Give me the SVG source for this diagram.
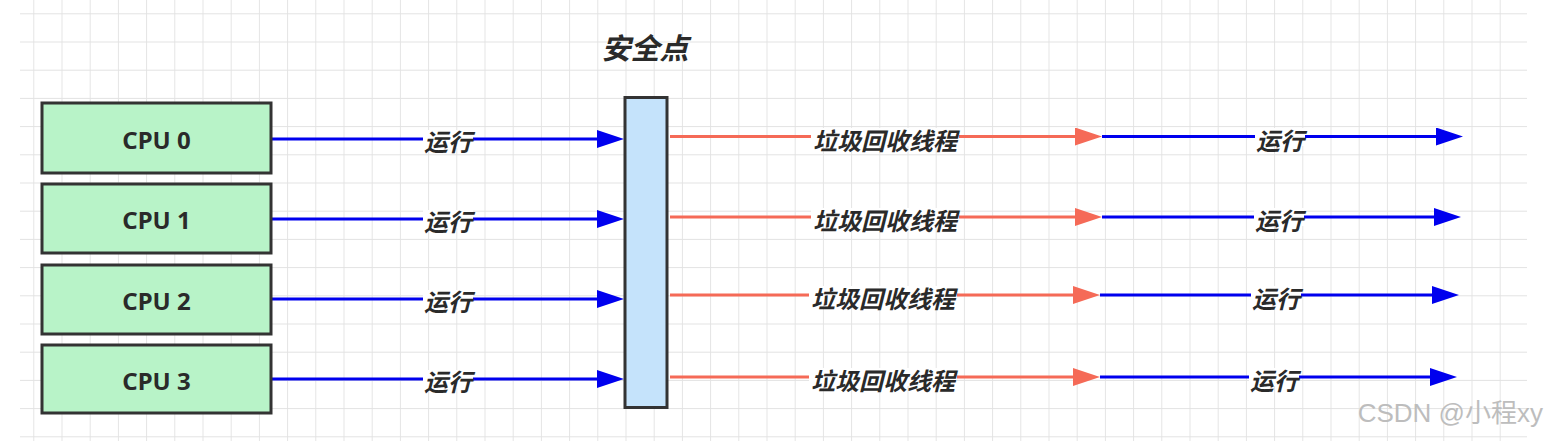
<svg xmlns="http://www.w3.org/2000/svg" width="1548" height="441" viewBox="0 0 1548 441">
<defs>
<pattern id="grid" patternUnits="userSpaceOnUse" x="33.3" y="13.3" width="28.2" height="28.2">
<path d="M0 0H28.2M0 0V28.2" fill="none" stroke="#e2e2e2" stroke-width="1.8"/>
</pattern>
<marker id="ab" markerUnits="userSpaceOnUse" markerWidth="28" markerHeight="20" refX="19" refY="9" orient="auto"><path d="M0 0L27 9L0 18Z" fill="#0000ee"/></marker>
<marker id="ar" markerUnits="userSpaceOnUse" markerWidth="28" markerHeight="20" refX="19" refY="9" orient="auto"><path d="M0 0L27 9L0 18Z" fill="#f56a57"/></marker>
</defs>
<style>
.cpu rect{fill:#b8f3c8;stroke:#333;stroke-width:3}
.cpu text{font-family:"Noto Sans","Liberation Sans",sans-serif;font-weight:bold;font-size:24px;fill:#2a2a2a;text-anchor:middle;dominant-baseline:central}
.blue{stroke:#0000ee;stroke-width:3;fill:none}
.red{stroke:#f56a57;stroke-width:3;fill:none}
.lbl{font-family:"Noto Sans CJK SC","Liberation Sans",sans-serif;font-weight:bold;font-style:italic;font-size:24px;fill:#2a2a2a;text-anchor:middle;dominant-baseline:central}
.bg{fill:#ffffff}
</style>
<rect width="1548" height="441" fill="#ffffff"/>
<rect x="20" y="0" width="1507" height="441" fill="url(#grid)"/>

<g id="connectors">
<path class="blue" d="M272 139H616" marker-end="url(#ab)"/>
<path class="blue" d="M272 219H616" marker-end="url(#ab)"/>
<path class="blue" d="M272 299H616" marker-end="url(#ab)"/>
<path class="blue" d="M272 379H616" marker-end="url(#ab)"/>
<path class="red" d="M670 136.5H1094" marker-end="url(#ar)"/>
<path class="red" d="M670 217H1094" marker-end="url(#ar)"/>
<path class="red" d="M670 295H1092" marker-end="url(#ar)"/>
<path class="red" d="M670 377H1092" marker-end="url(#ar)"/>
<path class="blue" d="M1102 136.5H1455" marker-end="url(#ab)"/>
<path class="blue" d="M1102 217H1453" marker-end="url(#ab)"/>
<path class="blue" d="M1100 295H1451" marker-end="url(#ab)"/>
<path class="blue" d="M1100 377H1449" marker-end="url(#ab)"/>
<g id="labels">
<rect class="bg" x="423" y="130" width="50" height="18"/><text class="lbl" x="448" y="140">运行</text>
<rect class="bg" x="423" y="210" width="50" height="18"/><text class="lbl" x="448" y="220">运行</text>
<rect class="bg" x="423" y="290" width="50" height="18"/><text class="lbl" x="448" y="300">运行</text>
<rect class="bg" x="423" y="370" width="50" height="18"/><text class="lbl" x="448" y="380">运行</text>
<rect class="bg" x="811" y="128" width="148" height="18"/><text class="lbl" x="885" y="139">垃圾回收线程</text>
<rect class="bg" x="811" y="208" width="148" height="18"/><text class="lbl" x="885" y="219">垃圾回收线程</text>
<rect class="bg" x="809" y="286" width="148" height="18"/><text class="lbl" x="883" y="297">垃圾回收线程</text>
<rect class="bg" x="809" y="368" width="148" height="18"/><text class="lbl" x="883" y="379">垃圾回收线程</text>
<rect class="bg" x="1255" y="128" width="50" height="18"/><text class="lbl" x="1280" y="139">运行</text>
<rect class="bg" x="1254" y="208" width="50" height="18"/><text class="lbl" x="1279" y="219">运行</text>
<rect class="bg" x="1251" y="286" width="50" height="18"/><text class="lbl" x="1276" y="297">运行</text>
<rect class="bg" x="1249" y="368" width="50" height="18"/><text class="lbl" x="1274" y="379">运行</text>
</g>
</g>

<g id="cpu0" class="cpu"><rect x="42" y="103" width="229" height="70"/><text x="156.5" y="139">CPU 0</text></g>
<g id="cpu1" class="cpu"><rect x="42" y="184" width="229" height="69"/><text x="156.5" y="219">CPU 1</text></g>
<g id="cpu2" class="cpu"><rect x="42" y="265" width="229" height="69"/><text x="156.5" y="300">CPU 2</text></g>
<g id="cpu3" class="cpu"><rect x="42" y="345" width="229" height="68"/><text x="156.5" y="380">CPU 3</text></g>

<g id="safepoint">
<rect x="625" y="97.5" width="42" height="310" fill="#c5e3fb" stroke="#333" stroke-width="3"/>
<text x="645" y="46" font-family="Noto Sans CJK SC, sans-serif" font-weight="bold" font-style="italic" font-size="29" fill="#2a2a2a" text-anchor="middle" dominant-baseline="central">安全点</text>
</g>

<text id="watermark" x="1543" y="413" font-family="Liberation Sans, Noto Sans CJK SC, sans-serif" font-size="26" fill="#bdbdbd" text-anchor="end" dominant-baseline="central">CSDN @小程xy</text>
</svg>
